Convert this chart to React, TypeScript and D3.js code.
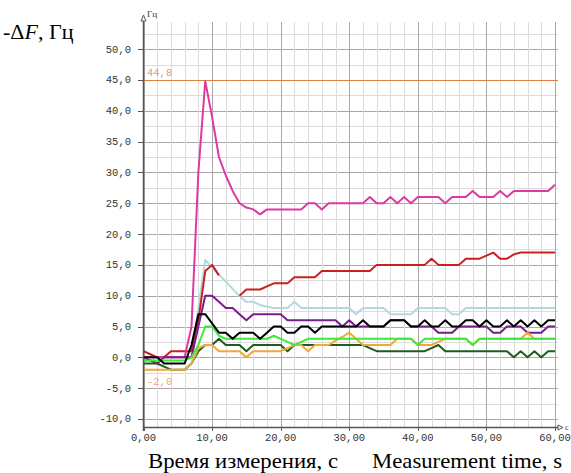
import React from 'react';
import * as d3 from 'd3';

// time, s (one sample per second)
const times = d3.range(0, 61);

// -dF, Hz for each sensor
const magenta = [0, 0, 0, 0, 0, 0, 0, 5, 30, 44.8, 39, 32.5, 29.5, 27, 25, 24.3, 24, 23.2, 24, 24, 24, 24, 24, 24, 25, 25, 24, 25, 25, 25, 25, 25, 25, 26, 25, 25, 26, 25, 26, 25, 26, 26, 26, 26, 25, 26, 26, 26, 27, 26, 26, 26, 27, 26, 27, 27, 27, 27, 27, 27, 28];
const red = [1, 0.5, 0, 0, 1, 1, 1, 1, 6, 14, 15, 13.3, null, null, 10, 11, 11, 11, 11.5, 12, 12, 12, 13, 13, 13, 13, 14, 14, 14, 14, 14, 14, 14, 14, 15, 15, 15, 15, 15, 15, 15, 15, 16, 15, 15, 15, 15, 16, 16, 16, 16.5, 17, 16, 16, 16.7, 17, 17, 17, 17, 17, 17];
const lightBlue = [-0.5, -0.5, 0, 0, 0, 0, 0, 0, 8, 15.8, 14.6, 13.4, 12.3, 11.1, 9.9, 9, 9, 8.5, 8.2, 8, 8, 8, 9, 8, 8, 8, 8, 8, 8, 8, 8, 7, 8, 8, 8, 8, 7, 7, 7, 7, 8, 8, 8, 8, 8, 7, 7, 8, 8, 8, 8, 8, 8, 8, 8, 8, 8, 8, 8, 8, 8];
const purple = [0, -0.5, -1, 0, 0, 0, 0, 0, 5, 10, 10, 9, 8, 8, 7, 6, 7, 7, 7, 7, 7, 6, 6, 6, 6, 6, 6, 6, 6, 5, 6, 5, 5, 5, 5, 5, 6, 6, 6, 5, 5, 5, 5, 4, 4, 4, 5, 5, 5, 5, 5, 4, 4, 5, 5, 5, 4, 4, 4, 5, 5];
const black = [0, 0, 0, -1, -1, -1, -1, 2, 7, 7, 5.5, 4, 4, 3, 4, 4, 4, 3, 4, 5, 5, 4, 4, 5, 5, 4, 5, 5, 5, 5, 5, 5, 6, 5, 5, 5, 6, 6, 6, 5, 5, 6, 5, 5, 6, 5, 5, 6, 6, 5, 6, 5, 5, 6, 5, 6, 5, 6, 5, 6, 6];
const green = [-0.5, -0.5, -0.5, -0.5, -0.5, -0.5, -0.5, 0, 2, 5, 5, 3.5, 3, 3, 3, 3, 3, 3, 3, 3.5, 3, 2.5, 2, 2.5, 3, 3, 3, 3, 3, 3, 3, 3, 3, 3, 3, 3, 3, 3, 3, 3, 2, 3, 3, 3, 3, 3, 3, 3, 2, 3, 3, 3, 3, 3, 3, 3, 3, 3, 3, 3, 3];
const orange = [-2, -2, -2, -2, -2, -2, -2, -1, 1.5, 2, 2, 1, 1, 1, 1, 0, 1, 1, 1, 1, 1, 1.5, 2, 2, 1, 2, 2, 2, 2.7, 3.3, 4, 3, 2, 2, 2, 2, 2, 3, 3, 3, 2, 2, 2, 2.5, 3, 3, 3, 3, 2, 3, 3, 3, 3, 3, 3, 3, 4, 3, 3, 3, 3];
const darkGreen = [-1, -1, -1, -1.5, -2, -2, -2, -1, 1, 2, 2, 3, 2, 2, 2, 1, 2, 2, 2, 2, 2, 1, 2, 2, 2, 2, 2, 2, 2, 2, 2, 2, 2, 1.5, 1, 1, 1, 1, 1, 1, 1, 1, 1.5, 2, 1, 1, 1, 1, 1, 1, 1, 1, 1, 1, 0, 1, 0, 1, 0, 1, 1];

const series = [
  { name: 'lightBlue', values: lightBlue, color: '#b4d8e0' },
  { name: 'red', values: red, color: '#c8201e' },
  { name: 'magenta', values: magenta, color: '#dc3aa0' },
  { name: 'purple', values: purple, color: '#7c1c8c' },
  { name: 'darkGreen', values: darkGreen, color: '#1e5c1e' },
  { name: 'orange', values: orange, color: '#f0a838' },
  { name: 'green', values: green, color: '#3ee83a' },
  { name: 'black', values: black, color: '#000000' },
];

const refLines = [44.8, -2.0];
const yTicks = [-10, -5, 0, 5, 10, 15, 20, 25, 30, 35, 40, 45, 50];
const xTicks = [0, 10, 20, 30, 40, 50, 60];

const fmt = (v: number, digits: number) => v.toFixed(digits).replace('.', ',');

export default function App() {
  const W = 571, H = 473;
  const left = 143, right = 555, top = 22, bottom = 427;

  const x = d3.scaleLinear().domain([0, 60]).range([left + 0.5, right]);
  const y = d3.scaleLinear().domain([-11.3, 54.4]).range([bottom, top]);

  const line = d3.line<[number, number | null]>()
    .defined(d => d[1] !== null)
    .x(d => x(d[0]))
    .y(d => y(d[1] as number));

  const vGrid = d3.range(0, 61, 2);
  const hGrid = d3.range(-10, 53, 2.5);

  return (
    <svg width={W} height={H} style={{ position: 'absolute', left: 0, top: 0, background: '#fff' }}>
      {/* grid */}
      {hGrid.map(v => (
        <line key={'h' + v} x1={left} x2={right + 3} y1={Math.round(y(v)) + 0.5} y2={Math.round(y(v)) + 0.5}
          stroke={v % 5 === 0 ? '#a8a8a8' : '#dcdcdc'} strokeWidth={1} />
      ))}
      {vGrid.map(v => (
        <line key={'v' + v} x1={Math.round(x(v)) + 0.5} x2={Math.round(x(v)) + 0.5} y1={top} y2={bottom}
          stroke={v % 10 === 0 ? '#a8a8a8' : '#dcdcdc'} strokeWidth={1} />
      ))}

      {/* reference lines */}
      {refLines.map((v, i) => (
        <g key={'r' + v}>
          <line x1={left} x2={right + 3} y1={Math.round(y(v)) - 0.5} y2={Math.round(y(v)) - 0.5}
            stroke={i === 0 ? '#e08040' : '#eba080'} strokeWidth={1} />
          <text x={147} y={i === 0 ? y(v) - 5 : y(v) + 15} fontFamily="Liberation Mono" fontSize={10.5}
            fill={i === 0 ? '#e49a70' : '#e8a888'}>{fmt(v, 1)}</text>
        </g>
      ))}

      {/* data */}
      {series.map(s => (
        <path key={s.name} d={line(times.map((t, i) => [t, s.values[i]]) as [number, number | null][]) || ''}
          fill="none" stroke={s.color} strokeWidth={2} strokeLinejoin="round" />
      ))}

      {/* axes */}
      <line x1={left + 0.5} x2={left + 0.5} y1={bottom + 4} y2={top - 3} stroke="#555" strokeWidth={1.5} />
      <path d={`M${left + 0.5},${top - 7} L${left - 2},${top - 1} L${left + 3},${top - 1} Z`} fill="#fff" stroke="#555" strokeWidth={1} />
      <text x={147} y={17} fontFamily="Liberation Serif" fontSize={9} fill="#333">Гц</text>
      <line x1={left} x2={right + 3} y1={bottom + 0.5} y2={bottom + 0.5} stroke="#555" strokeWidth={1.5} />
      <path d={`M${right + 8},${bottom + 0.5} L${right + 3},${bottom - 2} L${right + 3},${bottom + 3} Z`} fill="#fff" stroke="#555" strokeWidth={1} />
      <text x={right + 10} y={bottom + 3} fontFamily="Liberation Serif" fontSize={8} fill="#333">c</text>

      {yTicks.map(v => (
        <g key={'yt' + v}>
          <line x1={left - 5} x2={left} y1={Math.round(y(v)) + 0.5} y2={Math.round(y(v)) + 0.5} stroke="#555" />
          <text x={131} y={y(v) + 3.5} textAnchor="end" fontFamily="Liberation Mono" fontSize={10.5} fill="#333">{fmt(v, 1)}</text>
        </g>
      ))}
      {xTicks.map(v => (
        <g key={'xt' + v}>
          <line x1={Math.round(x(v)) + 0.5} x2={Math.round(x(v)) + 0.5} y1={bottom} y2={bottom + 4} stroke="#555" />
          <text x={x(v)} y={bottom + 14} textAnchor="middle" fontFamily="Liberation Mono" fontSize={10.5} fill="#333">{fmt(v, 2)}</text>
        </g>
      ))}

      {/* titles */}
      <text x={3} y={39} fontFamily="Liberation Serif" fontSize={22} fill="#000">
        -Δ<tspan fontStyle="italic">F</tspan>, Гц
      </text>
      <text x={148} y={468} fontFamily="Liberation Serif" fontSize={21} textLength={190} lengthAdjust="spacingAndGlyphs" fill="#000">Время измерения, с</text>
      <text x={372} y={468} fontFamily="Liberation Serif" fontSize={21} textLength={190} lengthAdjust="spacingAndGlyphs" fill="#000">Measurement time, s</text>
    </svg>
  );
}
